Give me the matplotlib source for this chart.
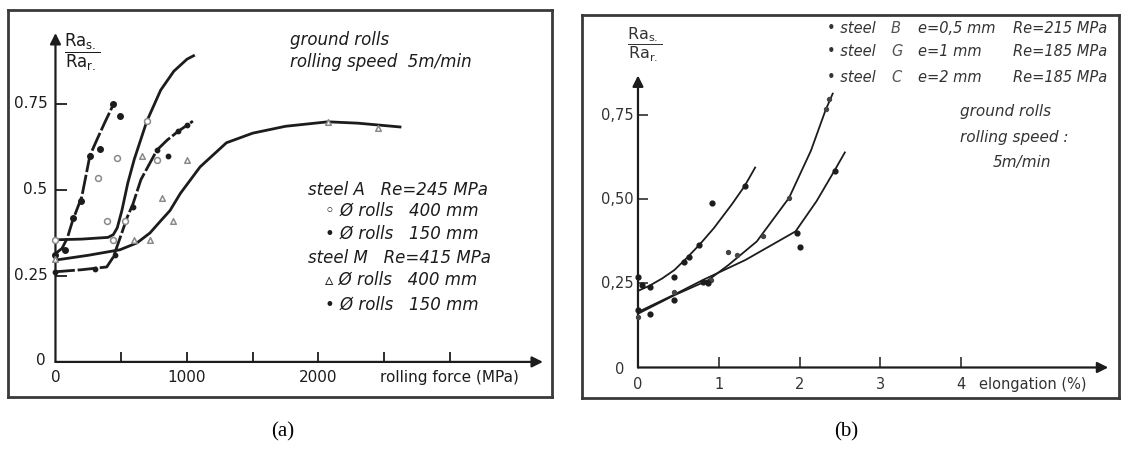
import matplotlib
matplotlib.use('Agg')
import matplotlib.pyplot as plt

# ---- panel (a): Ra_s/Ra_r vs rolling force ----
a_xticks = [500, 1000, 1500, 2000, 2500, 3000]
a_xlabels = [0, 1000, 2000]
a_yticks = [0.25, 0.5, 0.75]
a_ylabels = ['0.25', '0.5', '0.75']

# steel A, rolls 150 mm (steep left curve)
a150_x = [0, 50, 90, 130, 170, 200, 262, 320, 380, 430, 455]
a150_y = [0.315, 0.33, 0.36, 0.41, 0.45, 0.48, 0.60, 0.65, 0.70, 0.74, 0.755]
a150_px = [0, 69, 137, 191, 262, 337, 436, 491]
a150_py = [0.31, 0.326, 0.419, 0.468, 0.60, 0.62, 0.75, 0.716]

# steel A, rolls 400 mm
a400_x = [0, 200, 400, 440, 470, 505, 550, 600, 695, 800, 900, 1000, 1050]
a400_y = [0.355, 0.357, 0.362, 0.37, 0.39, 0.44, 0.52, 0.59, 0.70, 0.79, 0.845, 0.88, 0.89]
a400_px = [0, 324, 392, 440, 467, 532, 695, 770]
a400_py = [0.355, 0.535, 0.41, 0.355, 0.593, 0.41, 0.70, 0.587]

# steel M, rolls 150 mm
m150_x = [0, 200, 390, 440, 500, 545, 590, 650, 772, 850, 932, 1000, 1045]
m150_y = [0.262, 0.268, 0.276, 0.305, 0.37, 0.42, 0.46, 0.53, 0.616, 0.645, 0.67, 0.688, 0.70]
m150_px = [0, 300, 450, 590, 772, 856, 932, 1000]
m150_py = [0.26, 0.27, 0.31, 0.45, 0.616, 0.60, 0.67, 0.69]

# steel M, rolls 400 mm
m400_x = [0, 250, 490, 620, 719, 800, 871, 950, 1100, 1300, 1500, 1750, 2072, 2300, 2620]
m400_y = [0.296, 0.31, 0.326, 0.346, 0.375, 0.41, 0.44, 0.49, 0.567, 0.637, 0.665, 0.685, 0.698, 0.694, 0.683]
m400_px = [0, 600, 657, 719, 810, 894, 1000, 2072, 2453]
m400_py = [0.30, 0.355, 0.60, 0.355, 0.477, 0.41, 0.587, 0.698, 0.68]

a_legend = ['steel A   Re=245 MPa', '\u25e6 \u00d8 rolls   400 mm', '\u2022 \u00d8 rolls   150 mm',
            'steel M   Re=415 MPa', '\u25b5 \u00d8 rolls   400 mm', '\u2022 \u00d8 rolls   150 mm']

# ---- panel (b): Ra_s/Ra_r vs elongation ----
b_xticks = [1, 2, 3, 4]
b_xlabels = [0, 1, 2, 3]
b_yticks = [0.25, 0.50, 0.75]
b_ylabels = ['0,25', '0,50', '0,75']

steelB_x = [0, 0.14, 0.3, 0.45, 0.6, 0.76, 0.94, 1.16, 1.32, 1.45]
steelB_y = [0.228, 0.243, 0.265, 0.29, 0.325, 0.365, 0.415, 0.485, 0.54, 0.595]
steelB_px = [0, 0.05, 0.15, 0.45, 0.57, 0.63, 0.76, 0.92, 1.32]
steelB_py = [0.27, 0.245, 0.24, 0.27, 0.315, 0.33, 0.365, 0.49, 0.54]

steelG_x = [0, 0.45, 0.87, 1.12, 1.47, 1.87, 2.14, 2.32, 2.41]
steelG_y = [0.16, 0.215, 0.26, 0.305, 0.375, 0.505, 0.645, 0.765, 0.815]
steelG_px = [0, 0.45, 0.9, 1.12, 1.22, 1.55, 1.87, 2.33, 2.36]
steelG_py = [0.15, 0.225, 0.26, 0.345, 0.335, 0.39, 0.505, 0.77, 0.80]

steelC_x = [0, 0.45, 0.8, 1.33, 1.95, 2.21, 2.43, 2.56]
steelC_y = [0.165, 0.217, 0.26, 0.32, 0.405, 0.495, 0.585, 0.64]
steelC_px = [0, 0.15, 0.45, 0.8, 0.87, 1.97, 2.0, 2.44]
steelC_py = [0.17, 0.16, 0.2, 0.255, 0.25, 0.40, 0.36, 0.585]

b_steel = ['\u2022 steel', '\u2022 steel', '\u2022 steel']
b_letter = ['B', 'G', 'C']
b_thick = ['e=0,5 mm', 'e=1 mm', 'e=2 mm']
b_re = ['Re=215 MPa', 'Re=185 MPa', 'Re=185 MPa']

ink = '#1c1c1c'
fig = plt.figure(figsize=(11.22, 4.5), dpi=100)


def framed_axes(rect, xlim, ylim):
    ax = fig.add_axes(rect)
    ax.set_xlim(*xlim)
    ax.set_ylim(*ylim)
    ax.set_xticks([])
    ax.set_yticks([])
    for s in ax.spines.values():
        s.set_linewidth(2)
        s.set_color('#3a3a3a')
    return ax


def draw_axes_arrows(ax, xend, yend):
    arrow = dict(arrowstyle='-|>', lw=1.6, color=ink, mutation_scale=16, shrinkA=0, shrinkB=0)
    ax.annotate('', xy=(xend, 0), xytext=(0, 0), arrowprops=arrow)
    ax.annotate('', xy=(0, yend), xytext=(0, 0), arrowprops=arrow)


# ================= panel (a) =================
ax = framed_axes([8 / 1122, 53 / 450, 544 / 1122, 387 / 450], (-361, 3776), (-0.102, 1.023))
draw_axes_arrows(ax, 3707, 0.956)
ax.vlines(a_xticks, 0, 0.028, color=ink, lw=1.3)
ax.hlines(a_yticks, 0, 85, color=ink, lw=1.3)
for v, s in zip(a_yticks, a_ylabels):
    ax.text(-60, v, s, ha='right', va='center', fontsize=11, color=ink)
ax.text(-75, 0.005, '0', ha='right', va='center', fontsize=11, color=ink)
for v in a_xlabels:
    ax.text(v, -0.045, str(v), ha='center', va='center', fontsize=11, color=ink)
ax.text(2470, -0.045, 'rolling force (MPa)', ha='left', va='center', fontsize=11, color=ink)

ax.plot(a150_x, a150_y, color=ink, lw=2, ls=(0, (7, 1)))
ax.plot(a400_x, a400_y, color=ink, lw=2)
ax.plot(m150_x, m150_y, color=ink, lw=2, ls=(0, (7, 1)))
ax.plot(m400_x, m400_y, color=ink, lw=2)
ax.scatter(a150_px, a150_py, s=16, color=ink, zorder=3)
ax.scatter(a400_px, a400_py, s=18, facecolors='white', edgecolors='#8a8a8a', lw=1.1, zorder=3)
ax.scatter(m150_px, m150_py, s=10, color=ink, zorder=3)
ax.scatter(m400_px, m400_py, s=16, marker='^', facecolors='white', edgecolors='#8a8a8a', lw=1.1, zorder=3)

ax.text(201, 0.90, r'$\dfrac{\mathrm{Ra}_{\mathrm{s.}}}{\mathrm{Ra}_{\mathrm{r.}}}$', ha='center', va='center',
        fontsize=12, color=ink)
ax.text(1783, 0.936, 'ground rolls', fontsize=12, style='oblique', va='center', color=ink)
ax.text(1783, 0.872, 'rolling speed  5m/min', fontsize=12, style='oblique', va='center', color=ink)
for ly, s in zip([0.50, 0.439, 0.372, 0.302, 0.238, 0.166], a_legend):
    lx = 1920 if s.startswith('steel') else 2050
    ax.text(lx, ly, s, fontsize=12, style='oblique', va='center', color=ink)

fig.text(283 / 1122, 1 - 432 / 450, '(a)', ha='center', va='center', fontsize=15, family='Liberation Serif')

# ================= panel (b) =================
bx = framed_axes([581.5 / 1122, 52 / 450, 537.5 / 1122, 383 / 450], (-0.699, 5.953), (-0.0908, 1.049))
draw_axes_arrows(bx, 5.82, 0.869)
bx.vlines(b_xticks, 0, 0.03, color=ink, lw=1.1)
bx.hlines(b_yticks, 0, 0.12, color=ink, lw=1.1)
for v, s in zip(b_yticks, b_ylabels):
    bx.text(-0.05, v, s, ha='right', va='center', fontsize=10.5, color='#333333')
bx.text(-0.17, -0.005, '0', ha='right', va='center', fontsize=10.5, color='#333333')
for v in b_xlabels:
    bx.text(v, -0.05, str(v), ha='center', va='center', fontsize=10.5, color='#333333')
bx.text(4.0, -0.05, '4', ha='center', va='center', fontsize=10.5, color='#333333')
bx.text(4.22, -0.05, 'elongation (%)', ha='left', va='center', fontsize=10.5, color='#333333')

bx.plot(steelB_x, steelB_y, color=ink, lw=1.3)
bx.plot(steelG_x, steelG_y, color=ink, lw=1.3)
bx.plot(steelC_x, steelC_y, color=ink, lw=1.3)
bx.scatter(steelB_px, steelB_py, s=12, color=ink, zorder=3)
bx.scatter(steelG_px, steelG_py, s=8, color='#444444', zorder=3)
bx.scatter(steelC_px, steelC_py, s=12, color=ink, zorder=3)

bx.text(0.087, 0.96, r'$\dfrac{\mathrm{Ra}_{\mathrm{s.}}}{\mathrm{Ra}_{\mathrm{r.}}}$', ha='center', va='center',
        fontsize=11.5, color='#333333')
for ly, s1, s2, s3, s4 in zip([1.009, 0.939, 0.862], b_steel, b_letter, b_thick, b_re):
    bx.text(2.34, ly, s1, fontsize=10.5, style='oblique', va='center', color='#333333')
    bx.text(3.13, ly, s2, fontsize=10.5, style='oblique', va='center', color='#555555')
    bx.text(3.47, ly, s3, fontsize=10.5, style='oblique', va='center', color='#333333')
    bx.text(4.64, ly, s4, fontsize=10.5, style='oblique', va='center', color='#333333')
bx.text(3.98, 0.763, 'ground rolls', fontsize=11, style='oblique', va='center', color='#333333')
bx.text(3.98, 0.683, 'rolling speed :', fontsize=11, style='oblique', va='center', color='#333333')
bx.text(4.75, 0.609, '5m/min', fontsize=11, style='oblique', ha='center', va='center', color='#333333')

fig.text(846 / 1122, 1 - 432 / 450, '(b)', ha='center', va='center', fontsize=15, family='Liberation Serif')

fig.savefig('out.png', dpi=100)
